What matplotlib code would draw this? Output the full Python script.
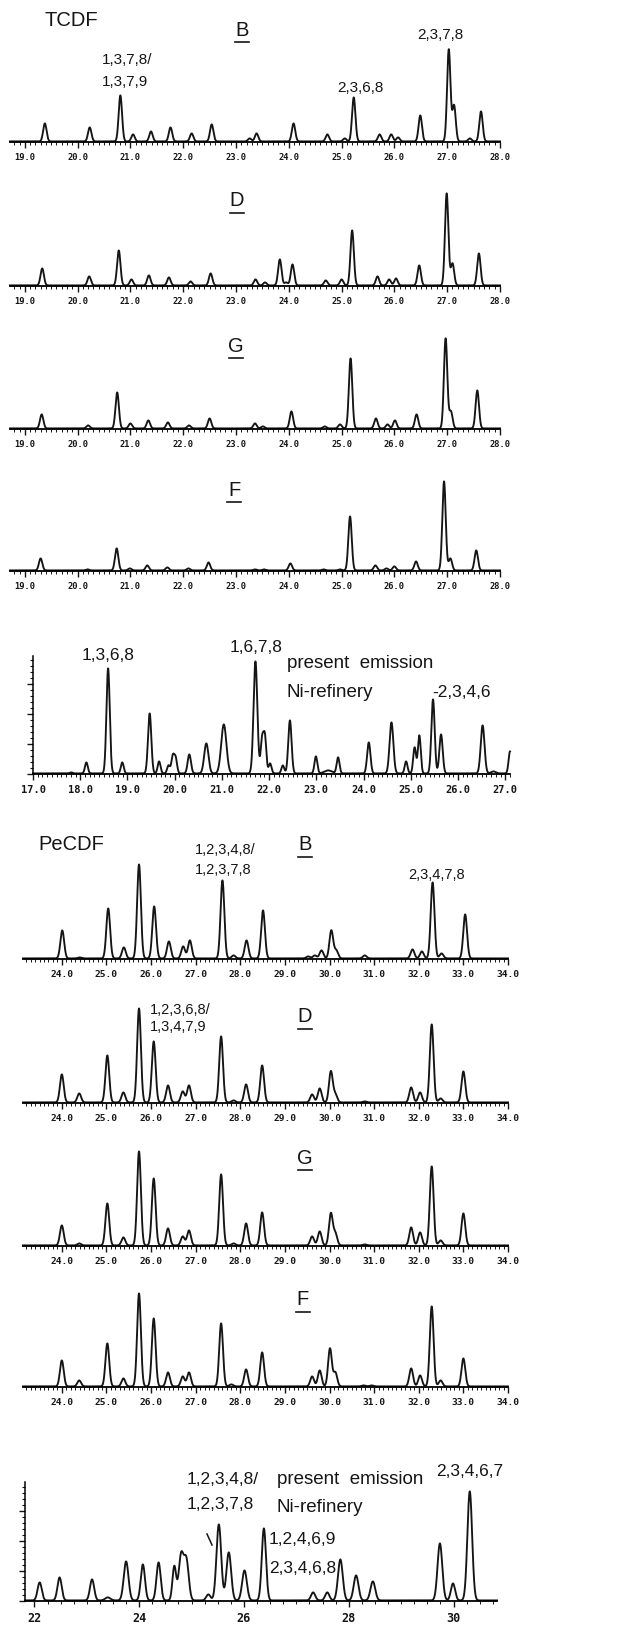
import numpy as np
import matplotlib
matplotlib.use('Agg')
import matplotlib.pyplot as plt
from matplotlib import font_manager
from matplotlib.lines import Line2D
from matplotlib.ticker import MultipleLocator

# TCDF chromatograms: retention time (min) and peak height (px above baseline)
tcdf_b_rt = [19.38, 20.23, 20.81, 21.05, 21.39, 21.76, 22.16, 22.54, 23.26, 23.39, 24.09, 24.73,
             25.06, 25.23, 25.72, 25.94, 26.07, 26.49, 27.03, 27.13, 27.43, 27.64]
tcdf_b_h = [18, 14, 46, 7, 10, 14, 8, 17, 3, 8, 18, 7, 3, 44, 7, 7, 4, 26, 92, 36, 3, 30]

tcdf_d_rt = [19.33, 20.22, 20.78, 21.02, 21.35, 21.73, 22.14, 22.52, 23.37, 23.55, 23.83, 23.95,
             24.07, 24.70, 25.00, 25.20, 25.68, 25.90, 26.03, 26.47, 26.99, 27.10, 27.60]
tcdf_d_h = [17, 9, 35, 6, 10, 8, 4, 12, 6, 3, 26, 3, 21, 5, 6, 55, 9, 6, 7, 20, 92, 22, 32]

tcdf_g_rt = [19.32, 20.20, 20.75, 21.00, 21.34, 21.71, 22.11, 22.50, 23.36, 23.51, 24.05, 24.68,
             24.97, 25.17, 25.65, 25.87, 26.01, 26.42, 26.97, 27.07, 27.57]
tcdf_g_h = [14, 3, 36, 5, 8, 6, 3, 10, 5, 2, 17, 2, 4, 70, 10, 4, 8, 14, 90, 17, 38]

tcdf_f_rt = [19.30, 20.19, 20.74, 20.99, 21.32, 21.70, 22.10, 22.48, 23.36, 23.53, 24.03, 24.66,
             24.97, 25.16, 25.64, 25.85, 26.00, 26.41, 26.94, 27.06, 27.55]
tcdf_f_h = [12, 1, 22, 2, 5, 3, 2, 8, 1, 1, 7, 1, 1, 54, 5, 2, 4, 9, 89, 12, 20]

# TCDF, present emission Ni-refinery (rt, height, peak width sigma)
tcdf_em_rt = [17.81, 18.13, 18.59, 18.89, 19.47, 19.67, 19.87, 19.96, 20.02, 20.31, 20.67, 21.04,
              21.71, 21.85, 21.91, 22.02, 22.29, 22.44, 22.99, 23.25, 23.46, 24.11, 24.59, 24.90,
              25.08, 25.18, 25.47, 25.64, 26.52, 26.75, 27.10]
tcdf_em_h = [1, 11, 105, 11, 60, 12, 8, 17, 15, 19, 30, 49, 112, 33, 36, 10, 8, 53, 17, 3, 16,
             31, 51, 12, 26, 38, 74, 39, 48, 2, 22]
tcdf_em_w = [.03, .03, .035, .03, .035, .03, .03, .03, .03, .035, .045, .055, .04, .03, .03, .03,
             .03, .035, .03, .08, .03, .035, .04, .03, .03, .03, .035, .035, .04, .05, .03]

# PeCDF chromatograms
pecdf_b_rt = [24.01, 24.40, 25.04, 25.39, 25.73, 26.07, 26.40, 26.72, 26.87, 27.60, 27.85, 28.14,
              28.51, 29.52, 29.67, 29.82, 30.04, 30.15, 30.79, 31.86, 32.07, 32.31, 32.51, 33.04]
pecdf_b_h = [28, 1, 50, 11, 94, 52, 17, 12, 18, 78, 3, 18, 48, 2, 3, 8, 28, 8, 3, 9, 7, 76, 5, 44]

pecdf_d_rt = [24.00, 24.39, 25.02, 25.38, 25.73, 26.06, 26.38, 26.71, 26.85, 27.57, 27.85, 28.13,
              28.49, 29.61, 29.78, 30.03, 30.13, 30.79, 31.83, 32.03, 32.29, 32.49, 33.00]
pecdf_d_h = [28, 9, 47, 10, 94, 61, 17, 11, 17, 66, 2, 18, 37, 8, 14, 31, 8, 1, 15, 10, 78, 4, 31]

pecdf_g_rt = [24.00, 24.39, 25.02, 25.38, 25.73, 26.06, 26.38, 26.71, 26.85, 27.57, 27.85, 28.13,
              28.49, 29.61, 29.78, 30.03, 30.13, 30.79, 31.83, 32.03, 32.29, 32.49, 33.00]
pecdf_g_h = [20, 2, 42, 8, 94, 67, 17, 9, 15, 71, 2, 22, 33, 9, 14, 32, 12, 1, 18, 13, 79, 5, 32]

pecdf_f_rt = [24.00, 24.39, 25.02, 25.38, 25.73, 26.06, 26.38, 26.71, 26.85, 27.57, 27.80, 28.13,
              28.49, 29.61, 29.78, 30.01, 30.13, 30.76, 30.94, 31.83, 32.03, 32.29, 32.49, 33.00]
pecdf_f_h = [26, 6, 43, 8, 93, 68, 14, 10, 14, 63, 2, 17, 34, 10, 16, 38, 14, 1, 1, 18, 11, 80,
             6, 28]

# PeCDF, present emission Ni-refinery
pecdf_em_rt = [22.10, 22.48, 23.10, 23.40, 23.75, 24.07, 24.37, 24.67, 24.80, 24.90, 25.32, 25.52,
               25.71, 26.01, 26.38, 27.32, 27.59, 27.84, 28.14, 28.46, 29.74, 29.99, 30.31]
pecdf_em_h = [18, 23, 21, 3, 39, 36, 38, 34, 45, 40, 6, 76, 48, 30, 72, 8, 8, 41, 25, 19, 57,
              17, 109]
pecdf_em_w = [.04, .04, .04, .05, .045, .04, .04, .035, .045, .045, .04, .045, .045, .045, .04,
              .04, .04, .045, .045, .045, .045, .04, .045]

tcdf_ticks = list(range(19, 29))
tcdf_em_ticks = list(range(17, 28))
pecdf_ticks = list(range(24, 35))
pecdf_em_ticks = [22, 24, 26, 28, 30]

W, H = 624, 1631
INK = '#151515'
names = {f.name for f in font_manager.fontManager.ttflist}
LAB = 'Liberation Sans Narrow' if 'Liberation Sans Narrow' in names else 'Liberation Sans'

fig = plt.figure(figsize=(W / 100, H / 100), dpi=100)


def put(x, y, s, size, ha='left'):
    fig.text(x / W, 1 - y / H, s, fontsize=size, ha=ha, va='center', family=LAB, color=INK)


def underline(x0, x1, y):
    fig.add_artist(Line2D([x0 / W, x1 / W], [1 - y / H, 1 - y / H], lw=1.2, color=INK))


def panel(left, right, base, height, xlim, ticks, fmt, tsize, yaxis=False, minor=0.1):
    ax = fig.add_axes([left / W, 1 - base / H, (right - left) / W, height / H])
    ax.set_xlim(*xlim)
    ax.set_ylim(0, height)
    ax.patch.set_alpha(0)
    for s in ('top', 'right'):
        ax.spines[s].set_visible(False)
    ax.spines['left'].set_visible(yaxis)
    ax.spines['bottom'].set_linewidth(1.3)
    ax.spines['left'].set_linewidth(1.1)
    ax.set_xticks(ticks, [fmt.format(t) for t in ticks])
    ax.xaxis.set_minor_locator(MultipleLocator(minor))
    ax.tick_params(axis='x', which='major', length=4, width=1.0, pad=3, labelsize=tsize,
                   colors=INK)
    ax.tick_params(axis='x', which='minor', length=2.3, width=0.7, colors=INK)
    for lab in ax.get_xticklabels():
        lab.set_family('DejaVu Sans Mono')
        lab.set_fontweight('bold')
    if yaxis:
        ax.yaxis.set_major_locator(MultipleLocator(30))
        ax.yaxis.set_minor_locator(MultipleLocator(6))
        ax.tick_params(axis='y', which='major', length=4, width=1.0, labelleft=False, colors=INK)
        ax.tick_params(axis='y', which='minor', length=2.5, width=0.8, colors=INK)
    else:
        ax.set_yticks([])
    return ax


def trace(ax, rt, ht, sig):
    x0, x1 = ax.get_xlim()
    x = np.linspace(x0, x1, 5000)
    sig = np.broadcast_to(np.asarray(sig, dtype=float), (len(rt),))
    y = np.zeros_like(x)
    for r, h, s in zip(rt, ht, sig):
        y += h * np.exp(-0.5 * ((x - r) / s) ** 2)
    ax.plot(x, y + 0.6, color=INK, lw=1.35, clip_on=False)


# ---- TCDF, four samples
for base, rt, ht in [(143, tcdf_b_rt, tcdf_b_h), (287, tcdf_d_rt, tcdf_d_h),
                     (430, tcdf_g_rt, tcdf_g_h), (572, tcdf_f_rt, tcdf_f_h)]:
    ax = panel(10, 500, base, 110, (18.72, 28.0), tcdf_ticks, '{}.0', 6.3)
    trace(ax, rt, ht, 0.032)

put(45, 21, 'TCDF', 14.5)
for s, x, y in [('B', 242, 30), ('D', 237, 201), ('G', 236, 346), ('F', 234, 490)]:
    put(x, y, s, 14.5, ha='center')
    underline(x - 7, x + 7, y + 13)
put(102, 60, '1,3,7,8/', 11)
put(102, 82, '1,3,7,9', 11)
put(337, 88, '2,3,6,8', 11)
put(417, 35, '2,3,7,8', 11)

# ---- TCDF, present emission
ax = panel(33, 510, 775, 118, (17.27, 27.1), tcdf_em_ticks, '{}.0', 7.5, yaxis=True)
trace(ax, tcdf_em_rt, tcdf_em_h, tcdf_em_w)
put(82, 656, '1,3,6,8', 12.5)
put(230, 648, '1,6,7,8', 12.5)
put(287, 663, 'present  emission', 13.5)
put(287, 693, 'Ni-refinery', 13.5)
put(432, 693, '-2,3,4,6', 12.5)

# ---- PeCDF, four samples
for base, rt, ht in [(960, pecdf_b_rt, pecdf_b_h), (1104, pecdf_d_rt, pecdf_d_h),
                     (1247, pecdf_g_rt, pecdf_g_h), (1388, pecdf_f_rt, pecdf_f_h)]:
    ax = panel(23, 508, base, 110, (23.13, 34.0), pecdf_ticks, '{}.0', 6.8)
    trace(ax, rt, ht, 0.042)

put(38, 845, 'PeCDF', 14.5)
for s, x, y in [('B', 305, 845), ('D', 305, 1017), ('G', 305, 1158), ('F', 303, 1300)]:
    put(x, y, s, 14.5, ha='center')
    underline(x - 7, x + 7, y + 13)
put(195, 850, '1,2,3,4,8/', 10.5)
put(195, 870, '1,2,3,7,8', 10.5)
put(408, 875, '2,3,4,7,8', 10.5)
put(150, 1010, '1,2,3,6,8/', 10.5)
put(150, 1027, '1,3,4,7,9', 10.5)

# ---- PeCDF, present emission
ax = panel(25, 497, 1602, 119, (21.82, 30.83), pecdf_em_ticks, '{}', 8.5, yaxis=True,
           minor=0.25)
trace(ax, pecdf_em_rt, pecdf_em_h, pecdf_em_w)
put(187, 1480, '1,2,3,4,8/', 12.5)
put(187, 1505, '1,2,3,7,8', 12.5)
fig.add_artist(Line2D([207 / W, 212 / W], [1 - 1535 / H, 1 - 1546 / H], lw=1.1, color=INK))
put(277, 1480, 'present  emission', 13.5)
put(277, 1508, 'Ni-refinery', 13.5)
put(436, 1472, '2,3,4,6,7', 12.5)
put(269, 1540, '1,2,4,6,9', 12.5)
put(269, 1569, '2,3,4,6,8', 12.5)

fig.savefig('out.png', dpi=100)
